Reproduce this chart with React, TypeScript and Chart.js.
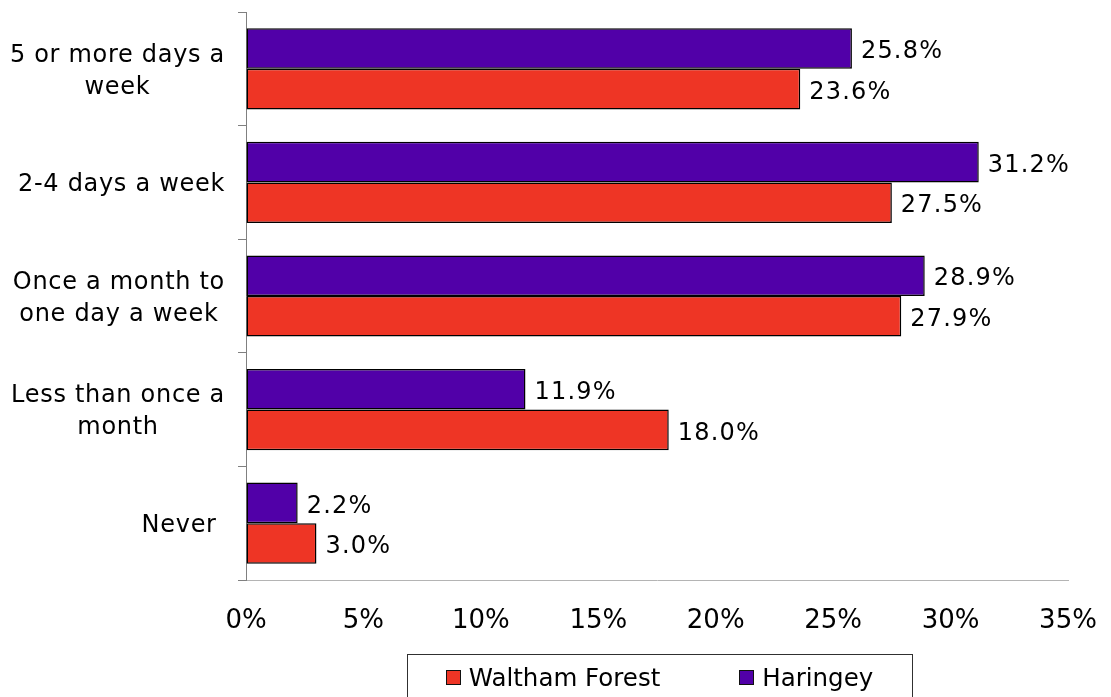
import React, { useEffect, useRef } from "react";
import { Chart, registerables } from "chart.js";

Chart.register(...registerables);

// ---- data ----
const categories: string[][] = [
  ["5 or more days a", "week"],
  ["2-4 days a week"],
  ["Once a month to", "one day a week"],
  ["Less than once a", "month"],
  ["Never "],
];
const haringey = [25.8, 31.2, 28.9, 11.9, 2.2];
const walthamForest = [23.6, 27.5, 27.9, 18.0, 3.0];
const seriesNames = ["Haringey", "Waltham Forest"];
const legendOrder = ["Waltham Forest", "Haringey"];
const xMin = 0;
const xMax = 35;
const xStep = 5;

const PURPLE = "#5100A8";
const RED = "#EE3525";
const FONT = '"DejaVu Sans", Verdana, sans-serif';

const yLabelPlugin = {
  id: "yLabels",
  afterDraw(chart: any) {
    const { ctx, chartArea, scales } = chart;
    const y = scales.y;
    const size = 24;
    ctx.save();
    ctx.font = `${size}px ${FONT}`;
    try { (ctx as any).letterSpacing = "0.7px"; } catch (e) {}
    ctx.fillStyle = "#000";
    ctx.textAlign = "center";
    ctx.textBaseline = "alphabetic";
    const right = chartArea.left - 21;
    const lh = 32;
    const capHalf = (size * 0.729) / 2;
    (chart.data.labels as any[]).forEach((lab, i) => {
      const lines: string[] = Array.isArray(lab) ? lab : [lab];
      const w = Math.max(...lines.map((l) => ctx.measureText(l).width));
      const cx = right - w / 2;
      const cy = y.getPixelForValue(i);
      lines.forEach((l, k) => {
        const lc = cy + (k - (lines.length - 1) / 2) * lh;
        ctx.fillText(l, cx, lc + capHalf);
      });
    });
    ctx.restore();
  },
};

const valueLabelPlugin = {
  id: "valueLabels",
  afterDatasetsDraw(chart: any) {
    const { ctx } = chart;
    const size = 24;
    ctx.save();
    ctx.font = `${size}px ${FONT}`;
    try { (ctx as any).letterSpacing = "1.2px"; } catch (e) {}
    ctx.fillStyle = "#000";
    ctx.textAlign = "left";
    ctx.textBaseline = "alphabetic";
    const capHalf = (size * 0.729) / 2;
    chart.data.datasets.forEach((ds: any, di: number) => {
      const meta = chart.getDatasetMeta(di);
      meta.data.forEach((el: any, i: number) => {
        const v = ds.data[i] as number;
        ctx.fillText(v.toFixed(1) + "%", el.x + 9, el.y + capHalf + 1);
      });
    });
    ctx.restore();
  },
};

const legendPlugin = {
  id: "boxLegend",
  afterDraw(chart: any) {
    const { ctx, chartArea } = chart;
    const size = 24.5;
    ctx.save();
    ctx.font = `${size}px ${FONT}`;
    ctx.textAlign = "left";
    ctx.textBaseline = "alphabetic";
    const boxW = 505;
    const boxTop = chart.height - 43;
    const cx = (chartArea.left + chartArea.right) / 2 + 2.5;
    const left = Math.round(cx - boxW / 2);
    ctx.strokeStyle = "#303030";
    ctx.lineWidth = 1;
    ctx.strokeRect(left + 0.5, boxTop + 0.5, boxW, 80);
    const sq = 15;
    const gap = 8;
    const itemGap = 79;
    const items = legendOrder.map((name) => {
      const di = chart.data.datasets.findIndex((d: any) => d.label === name);
      const ds = chart.data.datasets[di];
      return { name, color: ds.backgroundColor as string, w: ctx.measureText(name).width };
    });
    const total =
      items.reduce((s, it) => s + sq + gap + it.w, 0) + itemGap * (items.length - 1);
    let x = cx - total / 2;
    const midY = boxTop + 23;
    items.forEach((it) => {
      ctx.fillStyle = it.color;
      ctx.fillRect(Math.round(x) + 0.5, Math.round(midY - sq / 2) + 0.5, sq - 1, sq - 1);
      ctx.strokeStyle = "#111";
      ctx.strokeRect(Math.round(x) + 0.5, Math.round(midY - sq / 2) + 0.5, sq - 1, sq - 1);
      ctx.fillStyle = "#000";
      ctx.fillText(it.name, x + sq + gap, midY + (size * 0.729) / 2);
      x += sq + gap + it.w + itemGap;
    });
    ctx.restore();
  },
};

export default function App() {
  const ref = useRef<HTMLCanvasElement>(null);
  useEffect(() => {
    if (!ref.current) return;
    Chart.defaults.font.family = FONT;
    const barStyle = {
      borderColor: "#000",
      borderWidth: 1.5,
      borderSkipped: false,
      categoryPercentage: 0.715,
      barPercentage: 1,
    };
    const chart = new Chart(ref.current, {
      type: "bar",
      data: {
        labels: categories,
        datasets: [
          { label: seriesNames[0], data: haringey, backgroundColor: PURPLE, ...barStyle },
          { label: seriesNames[1], data: walthamForest, backgroundColor: RED, ...barStyle },
        ],
      },
      options: {
        indexAxis: "y",
        animation: false,
        responsive: false,
        devicePixelRatio: 1,
        layout: { padding: { left: 0, top: 12, right: 43, bottom: 0 } },
        plugins: {
          legend: { display: false },
          tooltip: { enabled: false },
        },
        scales: {
          x: {
            type: "linear",
            min: xMin,
            max: xMax,
            ticks: {
              stepSize: xStep,
              color: "#000",
              padding: 0,
              font: { size: 26, family: FONT },
              callback: (v: any) => `${v}%`,
            },
            grid: {
              display: true,
              drawOnChartArea: false,
              drawTicks: true,
              tickLength: 26,
              color: "rgba(0,0,0,0)",
            },
            border: { display: true, color: "#b4b4b4", width: 1 },
            afterFit: (scale: any) => {
              scale.height = 117;
            },
          },
          y: {
            type: "category",
            offset: true,
            ticks: { display: false },
            grid: {
              display: true,
              offset: true,
              drawOnChartArea: false,
              drawTicks: true,
              tickLength: 8,
              color: "#808080",
            },
            border: { display: true, color: "#808080", width: 1 },
            afterFit: (scale: any) => {
              scale.width = 246;
            },
          },
        },
      },
      plugins: [valueLabelPlugin, yLabelPlugin, legendPlugin],
    } as any);
    return () => chart.destroy();
  }, []);
  return (
    <div style={{ position: "absolute", left: 0, top: 0, width: 1111, height: 697, background: "#fff" }}>
      <canvas ref={ref} width={1111} height={697} style={{ display: "block", width: 1111, height: 697 }} />
    </div>
  );
}
